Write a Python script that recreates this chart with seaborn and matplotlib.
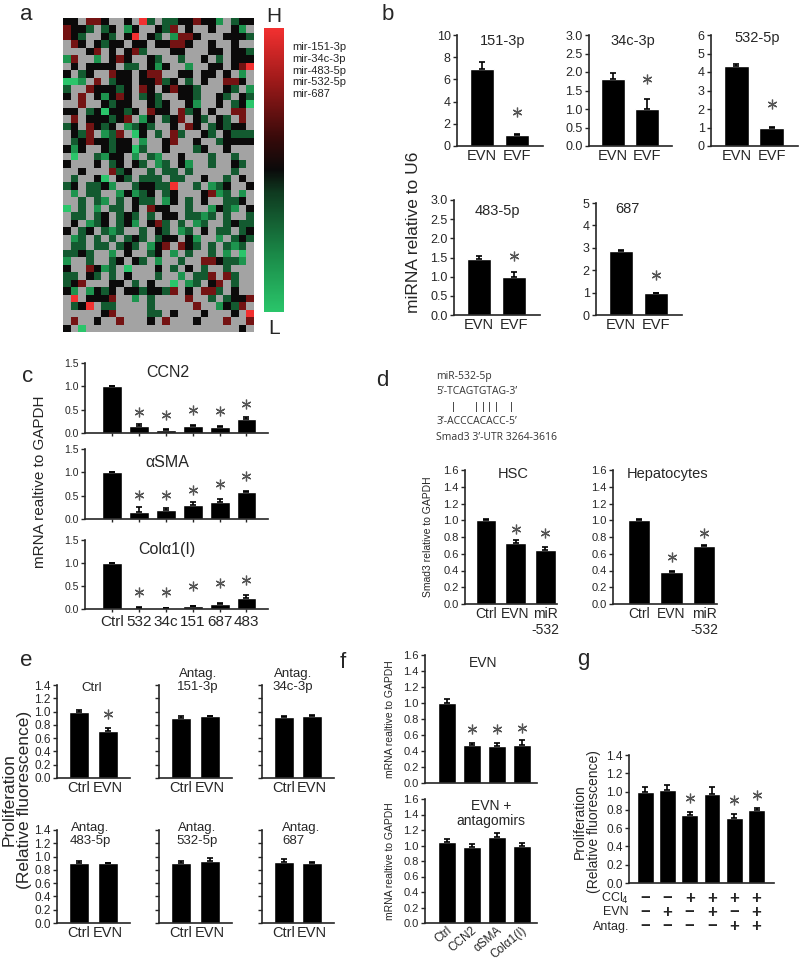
import numpy as np
import matplotlib.pyplot as plt
import seaborn as sns
from matplotlib.colors import LinearSegmentedColormap

sns.set_style("ticks")
plt.rcParams["font.family"] = ["Liberation Sans", "DejaVu Sans"]

# ---------------- data ----------------
# a: heatmap, one char per cell ('.' = no call, K black, r/R red, d/g/G green)
hm_rows = [
    "KK.rr K..K. Rd.dd KKrKK g.dKK",
    "rKKd. dK.gK ..Kdr .K..K ..Kg.",
    "rKd.. Kd.KR .Kd.g rrK.. .KKKd",
    ".rK.K dKK.K K.KKr rK..K ..K..",
    "...Kr .K.Kr d...K K...K K.KKd",
    "gr..g .KrK. .Kd.. d..K. d.KKK",
    ".K.KK KK.dd .KgK. .g..K K.KrR",
    "K.dK. .rKK. Krr.. KK.KK .K.g.",
    "GGg.r .dKK. KKrdK .d.K. .rrK.",
    "d..rK KKdK. rK.Kr KKd.. .Kd.g",
    "K.r.K gKrK. dKd.. KKd.. Kd.Kd",
    "..r.. KdKK. .KdK. .Kg.. K.dKG",
    "KK.dK GKKdK .rKK. rdK.K ..rr.",
    ".r.KK KdKr. gK.dK r.Kd. Kd.r.",
    "dK.rK dK.gd Kd..K .rK.d KdKK.",
    ".Kdr. gdr.G K.d.r d..Kd .Kddd",
    ".dKrK KdKK. g..Kr ..K.. dKKKK",
    "KgK.. KdKKG d..K. ..dK. .K...",
    ".G..d gKK.g .dg.. K...d ..d..",
    "K...K .dK.K d.gd. Kg..d ..Kd.",
    "..K.. .rdK. .d.dd .d... ..d..",
    ".d..K G.Kd. ddd.d d..K. .d.K.",
    "dK.dd Kg..d KKddR ..d.g dK..K",
    ".g.dd ..gKg dK.dK ...Kr gd.g.",
    "..d.d g.d.K dd.gK .d.K. .ddK.",
    "G.d.g .dd.K .rKK. .d..g Kdg.K",
    ".dd.d K.dKd .d.KK .ddgd .d..d",
    ".K.gd K.dKg .Krd. d.gd. .dKdd",
    "K.dK. dgd.. d.Kd. gd.K. dd.dK",
    ".gd.d .d.dK d.dKK .Kg.. g.dKd",
    ".dd.d d.dKd .gKr. rKd.d .dgd.",
    "ddKd. .g.K. .dK.g .d..d .g.G.",
    "g..d. .dK.K d.g.. d..rr Kddg.",
    "K..rK gd.G. ..K.d .K.d. .d...",
    "dd.Kd .d.K. ..d.. g.ddr .rd..",
    "dKr.. .KK.d .K..G .gd.K r.d..",
    "Kg.gK dK.KK dKKdr .K.rr d.K..",
    ".R.KK Kr..g .d... .r..d .dKKr",
    ".dKR. dd... .d... ..r.. gKdr.",
    "..... Kr... .dd.K ...K. ..K.R",
    ".r..K ..r.. .K.r. ..K.. .r..r",
    "K.G.. ..... ..... ..... ...K.",
]
hm_levels = {".": np.nan, "K": 0.0, "r": 1.4, "R": 3.0, "d": -1.0, "g": -2.0, "G": -3.0}
mir_labels = ["mir-151-3p", "mir-34c-3p", "mir-483-5p", "mir-532-5p", "mir-687"]

# b: miRNA in EVN vs EVF
b_names = ["151-3p", "34c-3p", "532-5p", "483-5p", "687"]
b_groups = ["EVN", "EVF"]
b_vals = [[6.9, 1.0], [1.82, 1.0], [4.35, 1.0], [1.47, 1.0], [2.85, 0.97]]
b_errs = [[0.7, 0.1], [0.15, 0.28], [0.1, 0.03], [0.08, 0.12], [0.06, 0.03]]
b_stars = [[None, 3.1], [None, 1.8], [None, 2.25], [None, 1.55], [None, 1.8]]

# c: fibrogenic mRNA after miR mimics
c_genes = ["CCN2", "\u03b1SMA", "Col\u03b11(I)"]
c_groups = ["Ctrl", "532", "34c", "151", "687", "483"]
c_vals = [[1.0, 0.14, 0.06, 0.16, 0.12, 0.30],
          [1.0, 0.16, 0.19, 0.31, 0.36, 0.58],
          [1.0, 0.03, 0.02, 0.06, 0.11, 0.24]]
c_errs = [[0.0, 0.05, 0.02, 0.02, 0.02, 0.04],
          [0.0, 0.09, 0.05, 0.05, 0.07, 0.03],
          [0.0, 0.01, 0.01, 0.01, 0.02, 0.07]]
c_stars = [[None, 0.45, 0.39, 0.5, 0.48, 0.63],
           [None, 0.52, 0.52, 0.63, 0.74, 0.93],
           [None, 0.38, 0.36, 0.49, 0.56, 0.64]]

# d: Smad3
d_seq = ["miR-532-5p", "5\u2019-TCAGTGTAG-3\u2019", "3\u2019-ACCCACACC-5\u2019",
         "Smad3 3\u2019-UTR 3264-3616"]
d_cells = ["HSC", "Hepatocytes"]
d_groups = ["Ctrl", "EVN", "miR\n-532"]
d_vals = [[1.0, 0.73, 0.65], [1.0, 0.38, 0.69]]
d_errs = [[0.01, 0.04, 0.03], [0.01, 0.01, 0.01]]
d_stars = [[None, 0.9, 0.85], [None, 0.56, 0.85]]

# e: proliferation with antagomirs
e_titles = ["Ctrl", "Antag.\n151-3p", "Antag.\n34c-3p",
            "Antag.\n483-5p", "Antag.\n532-5p", "Antag.\n687"]
e_groups = ["Ctrl", "EVN"]
e_vals = [[1.0, 0.71], [0.91, 0.93], [0.92, 0.94],
          [0.9, 0.9], [0.91, 0.935], [0.92, 0.9]]
e_errs = [[0.02, 0.05], [0.02, 0.01], [0.02, 0.01],
          [0.04, 0.01], [0.03, 0.04], [0.05, 0.02]]
e_stars = [[None, 0.96], None, None, None, None, None]

# f: mRNA after EVN +/- antagomirs
f_groups = ["Ctrl", "CCN2", "\u03b1SMA", "Col\u03b11(I)"]
f_titles = ["EVN", "EVN +\nantagomirs"]
f_vals = [[1.0, 0.47, 0.46, 0.47], [1.04, 0.98, 1.11, 1.0]]
f_errs = [[0.05, 0.03, 0.04, 0.07], [0.05, 0.04, 0.05, 0.03]]
f_stars = [[None, 0.67, 0.67, 0.69], None]

# g: proliferation in vivo
g_ccl4 = ["\u2212", "\u2212", "+", "+", "+", "+"]
g_evn = ["\u2212", "+", "\u2212", "+", "\u2212", "+"]
g_antag = ["\u2212", "\u2212", "\u2212", "\u2212", "+", "+"]
g_vals = [1.0, 1.02, 0.74, 0.97, 0.71, 0.80]
g_errs = [0.05, 0.05, 0.04, 0.08, 0.04, 0.02]
g_stars = [None, None, 0.93, None, 0.91, 0.96]

# ---------------- drawing ----------------
W, H = 800, 961
fig = plt.figure(figsize=(8, 9.61), dpi=100)


def add_ax(l, t, r, b):
    return fig.add_axes([l / W, 1 - b / H, (r - l) / W, (b - t) / H])


def ftext(x, y, s, **kw):
    fig.text(x / W, 1 - y / H, s, **kw)


def bars(ax, groups, vals, errs, stars, xlim, ylim, yticks, fmt="{:.1f}",
         width=0.7, tick_fs=8, xlab_fs=10, show_y=True, xtick_len=0):
    sns.barplot(x=groups, y=vals, color="black", saturation=1, width=width,
                errorbar=None, ax=ax)
    xs = np.arange(len(vals))
    ax.errorbar(xs, vals, yerr=[np.zeros(len(errs)), errs], fmt="none",
                ecolor="black", elinewidth=1.2, capsize=2.5, capthick=1.2)
    if stars:
        for xi, s in zip(xs, stars):
            if s is not None:
                ax.plot(xi, s, marker=(6, 2, 0), ms=7, mew=0.9, color="#555555")
    ax.set_xlim(*xlim)
    ax.set_ylim(*ylim)
    ax.set_yticks(yticks)
    ax.set_yticklabels([fmt.format(v) for v in yticks] if show_y else [])
    ax.tick_params(axis="y", labelsize=tick_fs, length=3, width=1, pad=1.5)
    ax.tick_params(axis="x", labelsize=xlab_fs, length=xtick_len, width=1, pad=2)
    ax.set_xlabel("")
    ax.set_ylabel("")
    sns.despine(ax=ax)
    for sp in ax.spines.values():
        sp.set_linewidth(1.2)


# panel labels
for lab, x, y in [("a", 20, 14), ("b", 382, 15), ("c", 22, 377), ("d", 376, 381),
                  ("e", 20, 660), ("f", 340, 663), ("g", 577, 660)]:
    ftext(x, y, lab, fontsize=16, ha="left", va="center")

# ---- a ----
hm = np.array([[hm_levels[c] for c in row.replace(" ", "")] for row in hm_rows])
cmap = LinearSegmentedColormap.from_list(
    "rg", [(0, "#2ac56a"), (0.2, "#1a8a48"), (0.42, "#0f3a20"), (0.5, "#0a0a0a"),
           (0.62, "#3a0a0a"), (0.82, "#a01a1a"), (1, "#f23030")])
ax_a = add_ax(63, 18, 254, 332)
cax = add_ax(264, 28, 284, 312)
sns.heatmap(hm, ax=ax_a, cmap=cmap, vmin=-3, vmax=3, cbar_ax=cax,
            xticklabels=False, yticklabels=False)
ax_a.set_facecolor("#a3a3a3")
cb = ax_a.collections[0].colorbar
cb.outline.set_visible(False)
cax.set_yticks([])
ftext(274, 17, "H", fontsize=15, ha="center", va="center")
ftext(274, 329, "L", fontsize=15, ha="center", va="center")
for i, lab in enumerate(mir_labels):
    ftext(292, 47 + i * 11.8, lab, fontsize=8, ha="left", va="center")

# ---- b ----
b_boxes = [(457, 35, 543, 146), (589, 35, 672, 146), (711, 35, 798, 146),
           (454, 200, 540, 315), (596, 203, 682, 315)]
b_ticks = [[0, 2, 4, 6, 8, 10], [0, 0.5, 1, 1.5, 2, 2.5, 3], [0, 1, 2, 3, 4, 5, 6],
           [0, 0.5, 1, 1.5, 2, 2.5, 3], [0, 1, 2, 3, 4, 5]]
b_fmt = ["{:.0f}", "{:.1f}", "{:.0f}", "{:.1f}", "{:.0f}"]
b_tpos = [(0.53, 0.95), (0.53, 0.95), (0.53, 0.97), (0.51, 0.9), (0.36, 0.95)]
for i in range(5):
    ax = add_ax(*b_boxes[i])
    bars(ax, b_groups, b_vals[i], b_errs[i], b_stars[i], (-0.72, 1.74),
         (0, b_ticks[i][-1]), b_ticks[i], fmt=b_fmt[i], tick_fs=9, xlab_fs=10.5)
    ax.text(*b_tpos[i], b_names[i], transform=ax.transAxes, fontsize=10.5,
            ha="center", va="center")
ftext(414, 232, "miRNA relative to U6", fontsize=12.5, rotation=90,
      ha="center", va="center")

# ---- c ----
c_boxes = [(85, 363, 268, 433), (85, 449, 268, 519), (85, 540, 268, 609)]
c_ty = [0.87, 0.81, 0.86]
for i in range(3):
    ax = add_ax(*c_boxes[i])
    bars(ax, c_groups, c_vals[i], c_errs[i], c_stars[i], (-1.0, 5.8), (0, 1.5),
         [0, 0.5, 1.0, 1.5], width=0.74, tick_fs=7.5, xlab_fs=11, xtick_len=2)
    if i < 2:
        ax.set_xticklabels([])
    ax.text(0.45, c_ty[i], c_genes[i], transform=ax.transAxes, fontsize=11.5,
            ha="center", va="center")
ftext(40, 482, "mRNA realtive to GAPDH", fontsize=11, rotation=90,
      ha="center", va="center")

# ---- d ----
for i, (s, y) in enumerate(zip(d_seq, [377, 392, 422, 437])):
    ftext(436, y, s, fontsize=7.5, family=["Open Sans", "DejaVu Sans"],
          color="#333333", ha="left", va="center")
for x in [453, 476, 483, 489, 496, 511]:
    ftext(x, 407, "|", fontsize=8, color="#333333", ha="center", va="center")
d_boxes = [(465, 470, 557, 604), (613, 470, 717, 604)]
d_xlim = [(-0.71, 2.4), (-0.8, 2.4)]
for i in range(2):
    ax = add_ax(*d_boxes[i])
    bars(ax, d_groups, d_vals[i], d_errs[i], d_stars[i], d_xlim[i], (0, 1.6),
         [0, 0.2, 0.4, 0.6, 0.8, 1.0, 1.2, 1.4, 1.6], tick_fs=8, xlab_fs=10)
    ax.text(0.52, 0.97, d_cells[i], transform=ax.transAxes, fontsize=10.5,
            ha="center", va="center")
ftext(428, 537, "Smad3 relative to GAPDH", fontsize=7.5, rotation=90,
      ha="center", va="center")

# ---- e ----
e_lefts = [(57, 130), (159, 232), (262, 334)]
e_tops = [(685, 778), (830, 923)]
e_tpos = [(0.48, 0.97, "center"), (0.53, 1.05, "center"), (0.43, 1.05, "center"),
          (0.46, 0.95, "center"), (0.52, 0.95, "center"), (0.28, 0.95, "left")]
for i in range(6):
    l, r = e_lefts[i % 3]
    t, b = e_tops[i // 3]
    ax = add_ax(l, t, r, b)
    bars(ax, e_groups, e_vals[i], e_errs[i], e_stars[i], (-0.76, 1.76), (0, 1.4),
         [0, 0.2, 0.4, 0.6, 0.8, 1.0, 1.2, 1.4], tick_fs=8.5, xlab_fs=10.5,
         show_y=(i % 3 == 0))
    x, y, ha = e_tpos[i]
    ax.text(x, y, e_titles[i], transform=ax.transAxes, fontsize=9.5, ha=ha,
            va="center", multialignment=ha, linespacing=1.1)
ftext(17, 800, "Proliferation\n(Relative fluorescence)", fontsize=12.5,
      rotation=90, ha="center", va="center", linespacing=1.0)

# ---- f ----
f_boxes = [(425, 655, 537, 783), (425, 799, 537, 923)]
f_tpos = [(0.52, 0.94), (0.59, 0.88)]
for i in range(2):
    ax = add_ax(*f_boxes[i])
    bars(ax, f_groups, f_vals[i], f_errs[i], f_stars[i], (-0.86, 3.62), (0, 1.6),
         [0, 0.2, 0.4, 0.6, 0.8, 1.0, 1.2, 1.4, 1.6], width=0.72, tick_fs=8,
         xlab_fs=8.5)
    if i == 0:
        ax.set_xticklabels([])
    else:
        ax.tick_params(axis="x", pad=1)
        for lab in ax.get_xticklabels():
            lab.set_rotation(40)
            lab.set_ha("right")
            lab.set_rotation_mode("anchor")
    ax.text(*f_tpos[i], f_titles[i], transform=ax.transAxes, fontsize=10,
            ha="center", va="center", linespacing=1.1)
    ftext(390, (f_boxes[i][1] + f_boxes[i][3]) / 2, "mRNA realtive to GAPDH",
          fontsize=7.5, rotation=90, ha="center", va="center")

# ---- g ----
g_groups = ["".join(t) for t in zip(g_ccl4, g_evn, g_antag)]
ax = add_ax(629, 755, 774, 883)
bars(ax, g_groups, g_vals, g_errs, g_stars, (-0.72, 5.78), (0, 1.4),
     [0, 0.2, 0.4, 0.6, 0.8, 1.0, 1.2, 1.4], width=0.76, tick_fs=8.5)
ax.set_xticklabels([])
for row, lab, y in [(g_ccl4, "CCl$_4$", -0.12), (g_evn, "EVN", -0.23),
                    (g_antag, "Antag.", -0.34)]:
    ax.text(0.0, y, lab, transform=ax.transAxes, fontsize=9, ha="right",
            va="center")
    for xi, s in enumerate(row):
        ax.text(xi, y, s, transform=ax.get_xaxis_transform(), fontsize=12,
                fontweight="bold", ha="center", va="center")
ftext(587, 822, "Proliferation\n(Relative fluorescence)", fontsize=10,
      rotation=90, ha="center", va="center", linespacing=1.0)

fig.savefig("out.png", dpi=100)
